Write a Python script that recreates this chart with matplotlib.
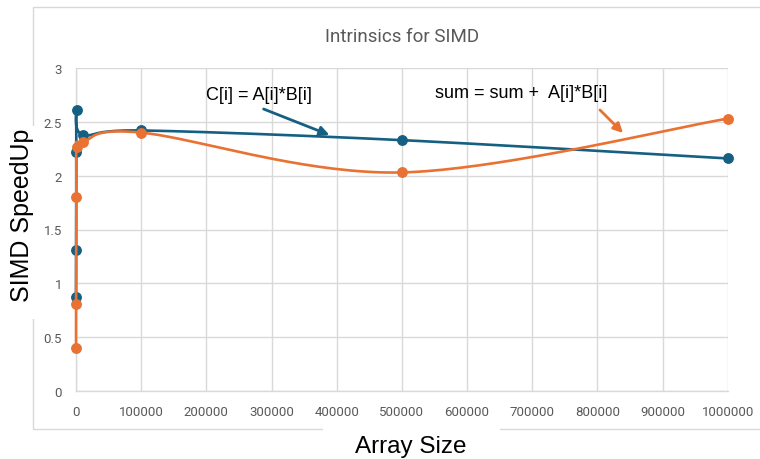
import numpy as np
import matplotlib
matplotlib.use("Agg")
import matplotlib.pyplot as plt
from matplotlib.patches import Rectangle

# array sizes tested and the measured SIMD speedups
sizes = [10, 100, 500, 1000, 10000, 100000, 500000, 1000000]
mult_speedup = [0.87, 1.31, 2.22, 2.61, 2.38, 2.42, 2.33, 2.16]
sum_speedup = [0.40, 0.81, 1.80, 2.27, 2.31, 2.40, 2.03, 2.53]

x_ticks = [0, 100000, 200000, 300000, 400000, 500000, 600000, 700000, 800000, 900000, 1000000]
y_ticks = [0, 0.5, 1, 1.5, 2, 2.5, 3]

BLUE = "#156082"
ORANGE = "#E97132"
GRID = "#D9D9D9"
TICK = "#595959"

W, H = 760, 460
fig = plt.figure(figsize=(W / 100, H / 100), dpi=100)
ax = fig.add_axes([76 / W, 68 / H, 651.7 / W, 323 / H])
ax.set_xlim(0, 1000000)
ax.set_ylim(0, 3)


def smooth(xs, ys, n=40):
    # Excel-like smoothed line: bezier segments, tangents from neighbours, in screen space
    x0, x1 = ax.get_xlim()
    y0, y1 = ax.get_ylim()
    sx = (np.array(xs) - x0) / (x1 - x0) * 651.7
    sy = (np.array(ys) - y0) / (y1 - y0) * 323
    p = np.column_stack([sx, sy])
    pts = [p[0]] + list(p) + [p[-1]]
    out = []
    t = np.linspace(0, 1, n)[:, None]
    for i in range(1, len(pts) - 2):
        a, b = pts[i], pts[i + 1]
        c1 = a + (pts[i + 1] - pts[i - 1]) / 6
        c2 = b - (pts[i + 2] - pts[i]) / 6
        seg = (1 - t) ** 3 * a + 3 * (1 - t) ** 2 * t * c1 + 3 * (1 - t) * t ** 2 * c2 + t ** 3 * b
        out.append(seg)
    out = np.vstack(out)
    return out[:, 0] / 651.7 * (x1 - x0) + x0, out[:, 1] / 323 * (y1 - y0) + y0


# blue series first, orange drawn over it
z = 3
for vals, col in [(mult_speedup, BLUE), (sum_speedup, ORANGE)]:
    cx, cy = smooth(sizes, vals)
    ax.plot(cx, cy, color=col, lw=1.9, solid_capstyle="round", zorder=z, clip_on=False)
    ax.plot(sizes, vals, "o", color=col, ms=6.8, zorder=z + 1, clip_on=False)
    z += 2

ax.set_xticks(x_ticks)
ax.set_xticklabels([str(v) for v in x_ticks])
ax.set_yticks(y_ticks)
ax.set_yticklabels([f"{v:g}" for v in y_ticks])
ax.grid(True, color=GRID, lw=1)
ax.set_axisbelow(True)
for s in ["top", "right"]:
    ax.spines[s].set_visible(False)
for s in ["left", "bottom"]:
    ax.spines[s].set_color(GRID)
    ax.spines[s].set_linewidth(1)
ax.tick_params(length=0, colors=TICK, labelsize=9.5)
ax.tick_params(axis="x", pad=10)
ax.tick_params(axis="y", pad=10)
for lab in ax.get_xticklabels() + ax.get_yticklabels():
    lab.set_fontfamily("Roboto")

# chart frame with gaps behind the axis titles
fig.add_artist(Rectangle((33 / W, 30 / H), 1, 422 / H, transform=fig.transFigure,
                         fill=False, ec=GRID, lw=1))
fig.add_artist(Rectangle((323 / W, 24 / H), 177 / W, 12 / H, transform=fig.transFigure,
                         fc="white", ec="none"))
fig.add_artist(Rectangle((27 / W, 140 / H), 12 / W, 193 / H, transform=fig.transFigure,
                         fc="white", ec="none"))

fig.text(402 / W, (H - 37) / H, "Intrinsics for SIMD", ha="center", va="center",
         fontsize=13.5, color=TICK, family="Roboto")
fig.text(411 / W, (H - 447) / H, "Array Size", ha="center", va="center",
         fontsize=17.5, color="black", family="Liberation Sans")
fig.text(22 / W, (H - 215) / H, "SIMD SpeedUp", ha="center", va="center", rotation=90,
         fontsize=18, color="black", family="Liberation Sans")

fig.text(206 / W, (H - 96) / H, "C[i] = A[i]*B[i]", ha="left", va="center",
         fontsize=13, color="black", family="Liberation Sans")
fig.text(435 / W, (H - 93) / H, "sum = sum +  A[i]*B[i]", ha="left", va="center",
         fontsize=13, color="black", family="Liberation Sans")

ax.annotate("", xy=(332, H - 137), xytext=(261, H - 109), xycoords="figure pixels",
            textcoords="figure pixels",
            arrowprops=dict(arrowstyle="-|>", color=BLUE, lw=2, mutation_scale=14))
ax.annotate("", xy=(625, H - 136), xytext=(598, H - 109), xycoords="figure pixels",
            textcoords="figure pixels",
            arrowprops=dict(arrowstyle="-|>", color=ORANGE, lw=2, mutation_scale=14))

fig.savefig("out.png", dpi=100, facecolor="white")
